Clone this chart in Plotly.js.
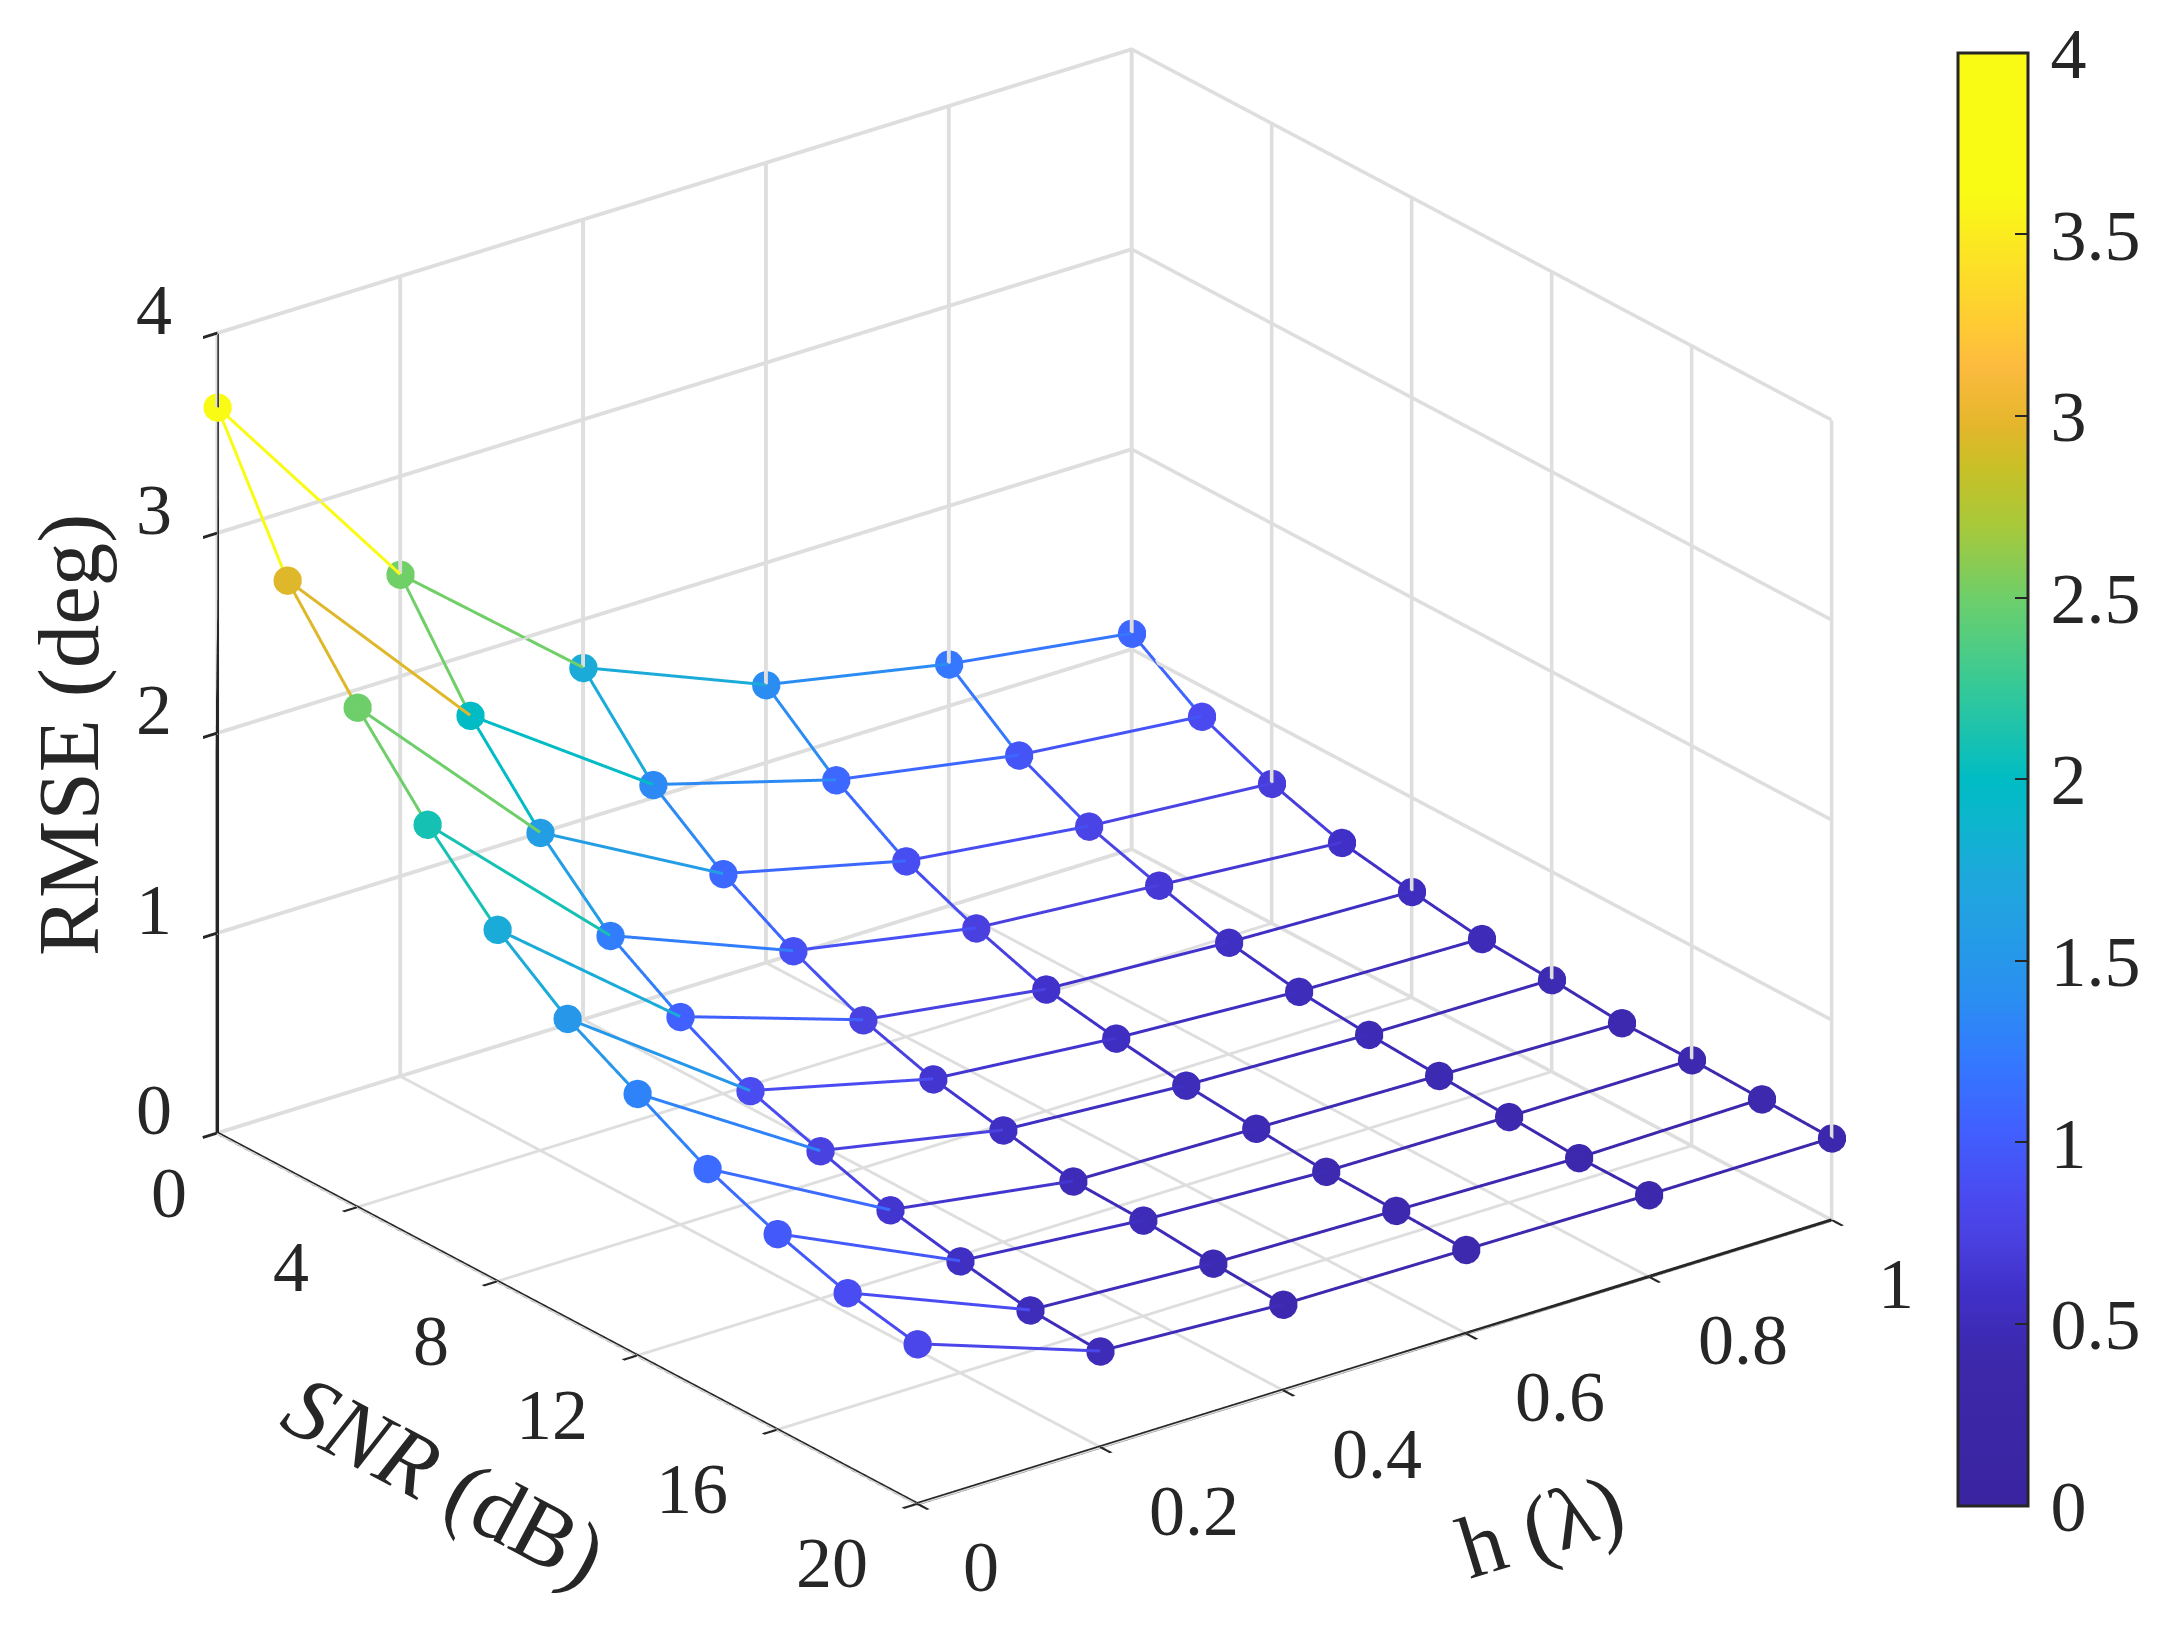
<!DOCTYPE html>
<html><head><meta charset="utf-8">
<script src="https://cdn.plot.ly/plotly-3.0.1.min.js"></script>
<style>html,body{margin:0;padding:0;background:#fff}#chart{width:2166px;height:1637px}</style>
</head><body><div id="chart"></div>
<script>
const snr=[0,2,4,6,8,10,12,14,16,18,20];
const hVals=[0,0.2,0.4,0.6,0.8,1];
const rmse_h0=[3.63,2.95,2.50,2.10,1.76,1.50,1.31,1.12,0.98,0.87,0.80];
const rmse_h02=[2.51,1.99,1.59,1.26,1.04,0.855,0.74,0.63,0.56,0.50,0.48];
const rmse_h04=[1.76,1.36,1.10,0.90,0.74,0.63,0.56,0.49,0.48,0.45,0.43];
const rmse_h06=[1.39,1.10,0.88,0.73,0.61,0.55,0.50,0.47,0.44,0.43,0.42];
const rmse_h08=[1.21,0.94,0.77,0.66,0.56,0.50,0.47,0.45,0.43,0.41,0.41];
const rmse_h10=[1.08,0.85,0.70,0.59,0.53,0.48,0.46,0.43,0.43,0.42,0.41];
const rows=[rmse_h0,rmse_h02,rmse_h04,rmse_h06,rmse_h08,rmse_h10];
const snrTicks=[0,4,8,12,16,20];
const hTicks=[0,0.2,0.4,0.6,0.8,1];
const zTicks=[0,1,2,3,4];
const barTicks=[0,0.5,1,1.5,2,2.5,3,3.5,4];
const stops=[[0,'#3a24a0'],[0.4,'#3c28aa'],[0.59,'#4030c8'],[0.73,'#4a40e0'],[0.85,'#4a4af0'],[1.04,'#4060ff'],[1.22,'#3478ff'],[1.41,'#2a90f0'],[1.73,'#1ea8dc'],[1.9,'#0bb7cc'],[2.0,'#00bcc4'],[2.3,'#3fcb90'],[2.5,'#6ecf6a'],[2.6,'#8ccb52'],[2.7,'#a8c93a'],[2.86,'#c9c026'],[2.97,'#e3b62b'],[3.14,'#fdbb3e'],[3.26,'#ffcc33'],[3.62,'#f9fb15'],[4,'#f9fb15']];
const cs=stops.map(s=>[s[0]/4,s[1]]);
const ink='#262626';
const traces=[];
function seg(x,y,z,c){traces.push({type:'scatter3d',mode:'lines',x,y,z,showlegend:false,hoverinfo:'skip',
  line:{width:6,color:[c,c],colorscale:cs,cmin:0,cmax:4}});}
const mx=[],my=[],mz=[];
rows.forEach((r,j)=>r.forEach((v,i)=>{
  mx.push(snr[i]);my.push(hVals[j]);mz.push(v);
  if(i<10)seg([snr[i],snr[i+1]],[hVals[j],hVals[j]],[v,r[i+1]],v);
  if(j<5)seg([snr[i],snr[i]],[hVals[j],hVals[j+1]],[v,rows[j+1][i]],v);
}));
traces.push({type:'scatter3d',mode:'markers',x:mx,y:my,z:mz,showlegend:false,hoverinfo:'skip',
  marker:{size:16.5,color:mz,colorscale:cs,cmin:0,cmax:4,opacity:1,line:{width:0},showscale:true,
    colorbar:{x:0.904,xanchor:'left',y:0.524,yanchor:'middle',thicknessmode:'pixels',thickness:70,lenmode:'pixels',len:1453,
      outlinecolor:ink,outlinewidth:3,ticks:'inside',ticklen:14,tickwidth:2,tickcolor:ink,
      tickvals:barTicks,ticktext:barTicks.map(v=>'\u200a'+v),
      tickfont:{family:'Liberation Serif',size:72,color:ink},xpad:0,ypad:0}}});
const axis={showgrid:true,gridcolor:'#dedede',gridwidth:8,showline:true,linecolor:ink,linewidth:7,
  ticks:'outside',ticklen:18,tickwidth:6,tickcolor:ink,zeroline:false,showbackground:false,showspikes:false,
  showticklabels:false,title:{text:''}};
const tf={family:'Liberation Serif',size:72,color:ink};
const lbl=(x,y,z,t,dx,dy)=>({x,y,z,text:String(t),showarrow:false,xanchor:'center',yanchor:'middle',xshift:dx,yshift:dy,font:tf});
const sceneAnn=[
 ...snrTicks.map(s=>lbl(s,0,0,s,String(s).length>1?-85:(s===0?-48:-66),-60)),
 ...hTicks.map(h=>lbl(20,h,0,h,String(h).length>1?94:64,-64)),
 ...zTicks.map(z=>lbl(0,0,z,z,-63,23))
];
const layout={width:2166,height:1637,margin:{l:0,r:0,t:0,b:0},paper_bgcolor:'#fff',showlegend:false,
 scene:{domain:{x:[0,0.946],y:[0.0515,1]},aspectmode:'manual',aspectratio:{x:1.483,y:1.483,z:1.127},
  camera:{projection:{type:'orthographic'},center:{x:0,y:0,z:0},up:{x:0,y:0,z:1},eye:{x:1.45,y:-1.11,z:0.81}},
  xaxis:Object.assign({},axis,{range:[0,20],tickvals:snrTicks}),
  yaxis:Object.assign({},axis,{range:[0,1],tickvals:hTicks}),
  zaxis:Object.assign({},axis,{range:[0,4],tickvals:zTicks}),
  annotations:sceneAnn},
 annotations:[
  {xref:'paper',yref:'paper',x:68/2166,y:1-735/1637,xanchor:'center',yanchor:'middle',text:'RMSE (deg)',showarrow:false,textangle:-90,font:{family:'Liberation Serif',size:87,color:ink}},
  {xref:'paper',yref:'paper',x:445/2166,y:1-1481/1637,xanchor:'center',yanchor:'middle',text:'<i>SNR</i> (dB)',showarrow:false,textangle:28,font:{family:'Liberation Serif',size:90,color:ink}},
  {xref:'paper',yref:'paper',x:1540/2166,y:1-1526/1637,xanchor:'center',yanchor:'middle',text:'h (λ)',showarrow:false,textangle:-17,font:{family:'Liberation Serif',size:88,color:ink}}
 ]};
Plotly.newPlot('chart',traces,layout,{displayModeBar:false});
</script></body></html>
